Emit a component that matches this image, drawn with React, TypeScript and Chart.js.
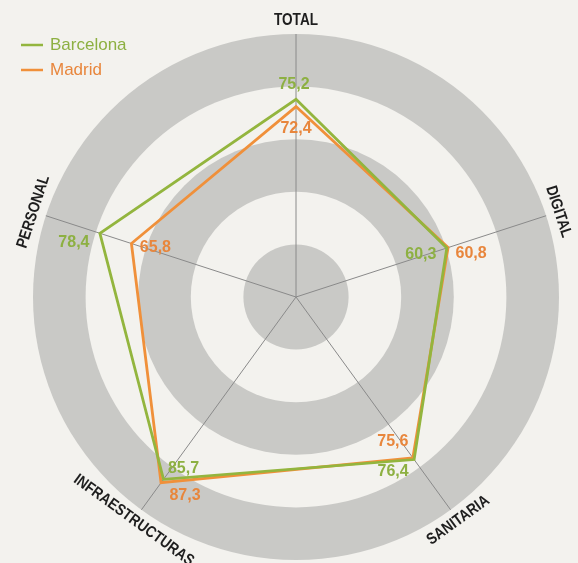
import React, { useEffect, useRef } from "react";
import { Chart, registerables } from "chart.js";

Chart.register(...registerables);

// ---- data ----
const categories = ["TOTAL", "DIGITAL", "SANITARIA", "INFRAESTRUCTURAS", "PERSONAL"];
const seriesNames = ["Barcelona", "Madrid"];
const barcelona = [75.2, 60.3, 76.4, 85.7, 78.4];
const madrid = [72.4, 60.8, 75.6, 87.3, 65.8];
const ringBounds = [0, 20, 40, 60, 80, 100];

// ---- styles ----
const BG = "#f3f2ee";
const RING = "#c9c9c6";
const LINE_COLORS = ["#93b53e", "#f0903a"];
const TEXT_COLORS = ["#8db042", "#e8863c"];
// pixel offsets of the value labels from their vertex (per series, per category)
const LABEL_OFFSETS = [
  [[-2, -15], [-26, 7], [-21, 12], [20, -11], [-26, 9]],
  [[0, 22], [23, 6], [-20, -16], [24, 13], [24, 4]],
];
const SANS = '"Liberation Sans", Arial, sans-serif';

const fmt = (v: number) => v.toFixed(1).replace(".", ",");

const decorPlugin = {
  id: "decor",
  beforeDraw(chart: any) {
    const ctx = chart.ctx;
    const s = chart.scales.r;
    ctx.save();
    ctx.fillStyle = BG;
    ctx.fillRect(0, 0, chart.width, chart.height);
    for (let i = ringBounds.length - 1; i > 0; i--) {
      const r = s.getDistanceFromCenterForValue(ringBounds[i]);
      ctx.beginPath();
      ctx.arc(s.xCenter, s.yCenter, r, 0, Math.PI * 2);
      ctx.fillStyle = i % 2 === 1 ? RING : BG;
      ctx.fill();
    }
    ctx.restore();
  },
  afterDraw(chart: any) {
    const ctx = chart.ctx;
    const s = chart.scales.r;
    ctx.save();
    // point labels, rotated tangentially, condensed
    ctx.font = `bold 16px ${SANS}`;
    ctx.fillStyle = "#1e1e1e";
    ctx.textAlign = "center";
    ctx.textBaseline = "middle";
    categories.forEach((label, i) => {
      const p = s.getPointPosition(i, s.drawingArea + 13);
      const a = s.getIndexAngle(i) % (Math.PI * 2);
      let rot = a;
      if (a > Math.PI / 2 && a < (Math.PI * 3) / 2) rot = a - Math.PI;
      ctx.save();
      ctx.translate(p.x, p.y);
      ctx.rotate(rot);
      ctx.scale(0.85, 1);
      ctx.fillText(label, 0, 0);
      ctx.restore();
    });
    // value labels
    ctx.font = `bold 16px ${SANS}`;
    chart.data.datasets.forEach((ds: any, di: number) => {
      const meta = chart.getDatasetMeta(di);
      ctx.fillStyle = TEXT_COLORS[di];
      meta.data.forEach((pt: any, i: number) => {
        const [dx, dy] = LABEL_OFFSETS[di][i];
        ctx.fillText(fmt(ds.data[i]), pt.x + dx, pt.y + dy);
      });
    });
    // legend
    ctx.font = `17px ${SANS}`;
    ctx.textAlign = "left";
    seriesNames.forEach((name, i) => {
      const y = 45 + i * 25;
      ctx.strokeStyle = LINE_COLORS[i];
      ctx.lineWidth = 2.5;
      ctx.beginPath();
      ctx.moveTo(21, y);
      ctx.lineTo(43, y);
      ctx.stroke();
      ctx.fillStyle = TEXT_COLORS[i];
      ctx.fillText(name, 50, y);
    });
    ctx.restore();
  },
};

export default function App() {
  const ref = useRef<HTMLCanvasElement>(null);
  useEffect(() => {
    if (!ref.current) return;
    const chart = new Chart(ref.current, {
      type: "radar",
      data: {
        labels: categories,
        datasets: [
          {
            label: seriesNames[0],
            data: barcelona,
            borderColor: LINE_COLORS[0],
            borderWidth: 2.8,
            fill: false,
            pointRadius: 0,
            pointHoverRadius: 0,
          },
          {
            label: seriesNames[1],
            data: madrid,
            borderColor: LINE_COLORS[1],
            borderWidth: 2.8,
            fill: false,
            pointRadius: 0,
            pointHoverRadius: 0,
          },
        ],
      },
      options: {
        animation: false,
        responsive: true,
        maintainAspectRatio: false,
        layout: { padding: { left: 33, right: 19, top: 34, bottom: 3 } },
        elements: { line: { tension: 0, borderJoinStyle: "miter" } },
        plugins: { legend: { display: false }, tooltip: { enabled: false } },
        scales: {
          r: {
            min: 0,
            max: 100,
            ticks: { display: false, stepSize: 20 },
            grid: { display: false },
            angleLines: { display: true, color: "#8a8a8a", lineWidth: 1 },
            pointLabels: { display: false },
          },
        },
      },
      plugins: [decorPlugin],
    });
    return () => chart.destroy();
  }, []);
  return (
    <div style={{ position: "fixed", left: 0, top: 0, width: 578, height: 563, background: BG }}>
      <canvas ref={ref} />
    </div>
  );
}
